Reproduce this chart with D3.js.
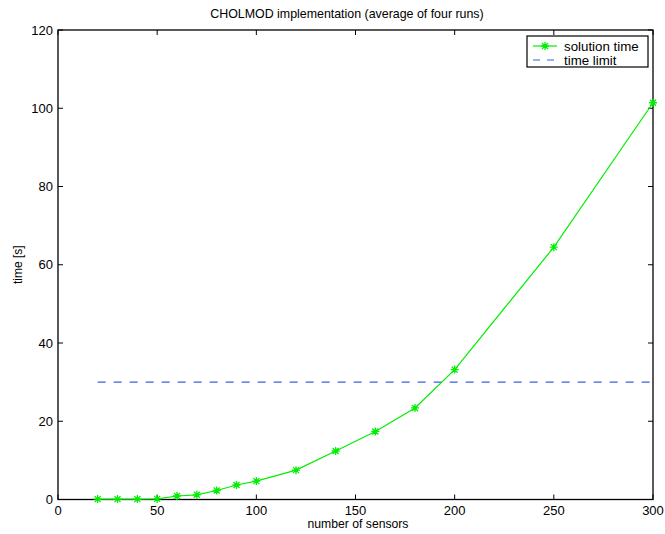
<!DOCTYPE html>
<html><head><meta charset="utf-8">
<script src="https://cdn.jsdelivr.net/npm/d3@7/dist/d3.min.js"></script>
<style>body{margin:0;background:#fff}svg{display:block}text{font-family:"Liberation Sans",Arial,Helvetica,sans-serif}</style>
</head><body>
<svg id="c" width="665" height="534"></svg>
<script>
const sensors = [20,30,40,50,60,70,80,90,100,120,140,160,180,200,250,300];
const solutionTime = [0.1,0.1,0.1,0.15,0.9,1.2,2.3,3.7,4.7,7.5,12.4,17.4,23.4,33.2,64.5,101.4];
const limitX = [20,300];
const limitY = [30,30];
const xTicks = [0,50,100,150,200,250,300];
const yTicks = [0,20,40,60,80,100,120];

const svg = d3.select("#c");
const L=58, R=653, T=30, B=499.5;
const x = d3.scaleLinear().domain([0,300]).range([L,R]);
const y = d3.scaleLinear().domain([0,120]).range([B,T]);

const tl=5;
const g = svg.append("g");
xTicks.forEach(v=>{
  g.append("line").attr("x1",x(v)).attr("x2",x(v)).attr("y1",B).attr("y2",B-tl).attr("stroke","#000");
  g.append("line").attr("x1",x(v)).attr("x2",x(v)).attr("y1",T).attr("y2",T+tl).attr("stroke","#000");
  g.append("text").attr("x",x(v)).attr("y",B+15).attr("text-anchor","middle").attr("font-size",13).text(v);
});
yTicks.forEach(v=>{
  g.append("line").attr("x1",L).attr("x2",L+tl).attr("y1",y(v)).attr("y2",y(v)).attr("stroke","#000");
  g.append("line").attr("x1",R).attr("x2",R-tl).attr("y1",y(v)).attr("y2",y(v)).attr("stroke","#000");
  g.append("text").attr("x",L-5).attr("y",y(v)+4.5).attr("text-anchor","end").attr("font-size",13).text(v);
});
svg.append("rect").attr("x",L).attr("y",T).attr("width",R-L).attr("height",B-T).attr("fill","none").attr("stroke","#000").attr("stroke-width",1.3);

svg.append("path").datum(limitX.map((d,i)=>[d,limitY[i]]))
  .attr("d",d3.line().x(d=>x(d[0])).y(d=>y(d[1])))
  .attr("fill","none").attr("stroke","#3a5ee8").attr("stroke-width",1.2).attr("stroke-dasharray","8,8");

const green="#00ee00";
svg.append("path").datum(sensors.map((d,i)=>[d,solutionTime[i]]))
  .attr("d",d3.line().x(d=>x(d[0])).y(d=>y(d[1])))
  .attr("fill","none").attr("stroke",green).attr("stroke-width",1.2);

function star(px,py){
  const s=4, d=3;
  const p=`M${px-s},${py}L${px+s},${py}M${px},${py-s}L${px},${py+s}M${px-d},${py-d}L${px+d},${py+d}M${px-d},${py+d}L${px+d},${py-d}`;
  svg.append("path").attr("d",p).attr("stroke",green).attr("stroke-width",1.3).attr("fill","none");
}
sensors.forEach((d,i)=>star(x(d),y(solutionTime[i])));

svg.append("rect").attr("x",527).attr("y",36).attr("width",121).attr("height",31).attr("fill","#fff").attr("stroke","#000").attr("stroke-width",1.2);
svg.append("line").attr("x1",533).attr("x2",557).attr("y1",46).attr("y2",46).attr("stroke",green).attr("stroke-width",1.2);
star(545,46);
svg.append("text").attr("x",564).attr("y",50.5).attr("font-size",13.3).text("solution time");
svg.append("line").attr("x1",533).attr("x2",557).attr("y1",60).attr("y2",60).attr("stroke","#3a5ee8").attr("stroke-width",1.2).attr("stroke-dasharray","7,7");
svg.append("text").attr("x",564).attr("y",64.5).attr("font-size",13.3).text("time limit");

svg.append("text").attr("x",347).attr("y",18).attr("text-anchor","middle").attr("font-size",12.4).text("CHOLMOD implementation (average of four runs)");
svg.append("text").attr("x",358).attr("y",528).attr("text-anchor","middle").attr("font-size",12.2).text("number of sensors");
svg.append("text").attr("transform",`translate(22,${(T+B)/2}) rotate(-90)`).attr("text-anchor","middle").attr("font-size",12).text("time [s]");
</script>
</body></html>
